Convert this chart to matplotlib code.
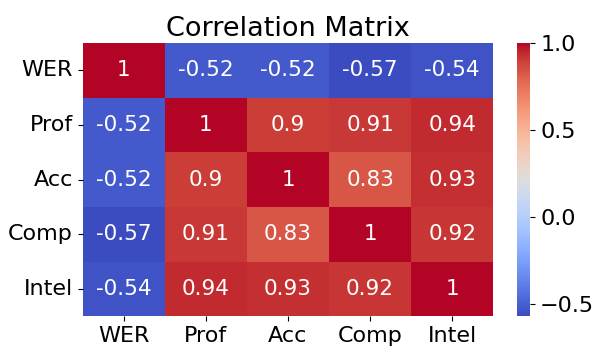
import matplotlib
matplotlib.use("Agg")
import matplotlib.pyplot as plt
import seaborn as sns
import numpy as np

# -----------------------------
# Data
# -----------------------------
labels = ["WER", "Prof", "Acc", "Comp", "Intel"]
row_wer = [1, -0.52, -0.52, -0.57, -0.54]
row_prof = [-0.52, 1, 0.9, 0.91, 0.94]
row_acc = [-0.52, 0.9, 1, 0.83, 0.93]
row_comp = [-0.57, 0.91, 0.83, 1, 0.92]
row_intel = [-0.54, 0.94, 0.93, 0.92, 1]

corr = np.array([row_wer, row_prof, row_acc, row_comp, row_intel])

# -----------------------------
# Plot
# -----------------------------
fig = plt.figure(figsize=(6, 3.56), dpi=100)
ax = fig.add_axes([0.138, 0.112, 0.684, 0.767])
cax = fig.add_axes([0.862, 0.112, 0.022, 0.767])

sns.heatmap(corr, annot=True, cmap="coolwarm", ax=ax, cbar_ax=cax,
            xticklabels=labels, yticklabels=labels,
            annot_kws={"fontsize": 15.5})

ax.set_title("Correlation Matrix", fontsize=19.5, pad=5)
ax.tick_params(axis="both", labelsize=16)
ax.set_yticklabels(labels, rotation=0)
cax.tick_params(labelsize=16)
cax.set_yticks([-0.5, 0.0, 0.5, 1.0])

fig.savefig("out.png", dpi=100)
